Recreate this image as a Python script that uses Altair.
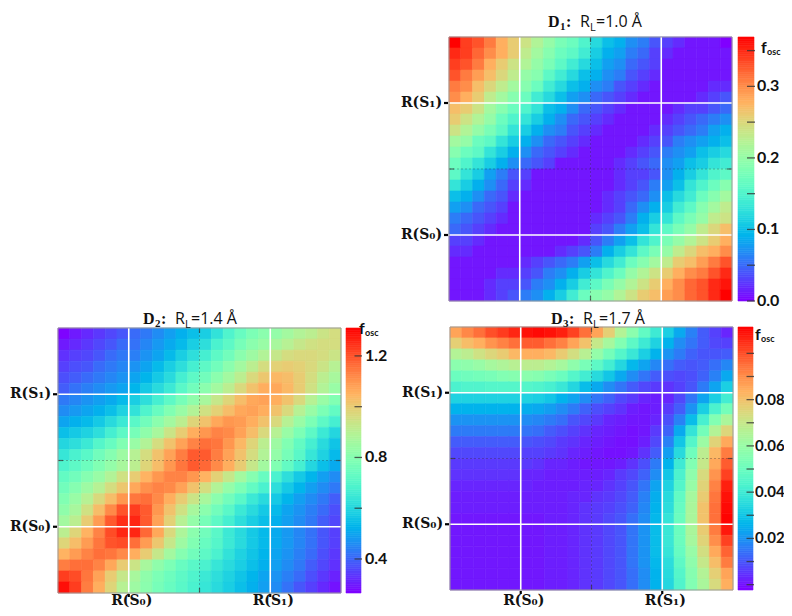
import altair as alt
import numpy as np
import pandas as pd

N_CELLS = 24
REF_POS = [6, 18]
REF_LABELS = ["R(S\u2080)", "R(S\u2081)"]
MID_POS = [12]

# f_osc x 100, rows listed from top (y index 23) to bottom (y index 0)
D1_ROWS = [
    [37,34,33,31,28,26,24,22,20,18,17,15,12,10,9,7,6,4,3,2,1,1,1,0],
    [35,34,32,30,28,26,23,21,19,17,16,14,11,9,8,6,5,3,2,1,1,1,1,1],
    [34,33,31,28,26,24,22,20,18,16,14,12,10,8,7,5,4,3,1,1,1,1,1,1],
    [33,31,29,27,25,23,20,19,16,14,12,10,9,7,6,4,3,2,1,1,1,1,1,1],
    [31,30,27,25,23,21,19,17,14,12,10,9,7,6,4,3,2,1,1,1,1,1,2,2],
    [30,28,26,23,21,19,17,14,12,10,8,7,5,4,3,2,1,1,1,1,1,2,3,4],
    [27,26,24,21,19,17,15,13,10,9,7,5,4,3,2,1,1,1,1,2,3,3,4,5],
    [26,24,22,20,17,15,13,11,9,7,5,4,3,2,1,1,1,1,2,3,4,5,6,7],
    [24,22,20,18,16,13,11,9,7,6,4,3,2,1,1,1,1,2,3,4,5,6,8,9],
    [21,20,17,16,13,11,9,7,5,4,3,2,1,1,1,1,2,3,4,6,7,8,9,10],
    [19,17,16,13,11,9,7,5,4,3,2,1,1,1,1,2,3,4,6,7,8,10,11,12],
    [17,15,13,11,9,7,5,4,3,1,1,1,1,1,2,3,4,5,7,8,10,11,13,14],
    [16,13,11,8,6,4,3,1,1,1,1,1,1,1,2,3,3,4,7,9,11,13,15,16],
    [13,11,9,7,5,3,2,1,1,1,1,1,1,1,2,3,4,6,8,10,13,15,17,19],
    [10,9,7,5,4,2,1,1,1,1,1,1,1,2,3,4,5,7,10,12,14,17,19,21],
    [8,7,5,4,3,1,1,1,1,1,1,1,1,2,3,5,7,9,11,14,16,19,21,23],
    [6,5,4,3,2,1,1,1,1,1,1,1,2,3,4,6,9,11,13,16,18,20,23,24],
    [5,4,3,2,1,1,1,1,1,1,1,1,3,4,6,8,10,13,16,18,20,23,25,27],
    [3,3,2,1,1,1,1,1,1,1,1,2,4,6,8,10,13,15,18,20,22,24,26,28],
    [2,2,1,1,1,1,1,1,1,2,3,4,6,9,11,13,16,18,20,23,25,27,28,30],
    [1,1,1,1,1,1,2,3,4,5,6,8,10,12,14,17,19,21,23,26,27,29,31,33],
    [1,1,1,1,2,2,3,4,6,7,9,11,13,15,17,20,22,24,26,28,30,31,33,35],
    [1,1,1,2,3,3,4,6,7,9,11,14,16,18,20,22,24,26,28,30,32,33,35,36],
    [1,1,1,2,3,4,6,7,9,11,14,17,19,20,22,24,26,27,29,30,32,33,35,37],
]

# f_osc x 100
D2_ROWS = [
    [27,30,32,34,36,38,41,43,46,49,52,55,58,63,69,74,78,81,83,86,89,91,94,96],
    [30,32,34,36,38,41,42,45,48,51,54,58,62,68,72,77,81,84,87,90,93,95,96,96],
    [33,35,36,38,41,43,44,47,50,54,58,62,67,72,76,81,85,89,93,96,97,97,96,94],
    [35,37,38,41,43,45,47,50,54,58,62,67,72,76,81,86,91,96,99,100,99,97,94,90],
    [37,39,41,43,45,47,50,53,57,61,67,72,76,81,86,91,97,101,104,103,100,96,91,87],
    [39,42,44,46,48,50,53,57,61,65,71,76,81,86,91,97,102,106,107,104,100,95,89,84],
    [43,45,47,49,51,54,58,62,67,72,77,82,87,93,98,103,107,108,106,102,97,90,84,79],
    [46,48,50,52,55,59,63,69,74,79,84,89,95,99,103,107,108,106,102,97,90,84,78,73],
    [50,52,54,57,61,65,71,76,81,86,91,98,102,107,110,109,106,102,97,90,84,78,72,67],
    [55,57,59,62,67,72,77,82,87,94,100,106,110,113,112,108,103,97,90,84,78,72,65,60],
    [60,62,65,70,74,79,84,89,96,102,108,113,116,115,110,104,98,91,85,79,73,67,61,56],
    [64,68,71,76,80,85,90,96,102,108,114,119,119,114,108,102,96,89,83,77,71,64,59,54],
    [69,72,75,79,83,87,91,98,103,110,115,119,117,112,106,100,93,86,79,73,67,60,55,51],
    [73,76,80,84,89,95,100,105,110,113,113,110,105,99,93,86,80,74,68,62,57,53,49,46],
    [76,80,85,90,96,101,107,111,113,112,108,102,96,89,83,78,73,68,62,57,53,49,46,43],
    [79,84,90,97,103,110,115,116,112,106,100,94,87,81,76,71,65,61,57,53,49,46,43,39],
    [82,87,95,103,112,120,123,119,110,102,95,87,81,76,71,65,61,57,54,50,47,44,41,37],
    [86,91,100,109,119,125,126,119,108,99,90,83,77,72,67,62,58,55,52,49,46,43,39,36],
    [91,98,105,113,121,126,126,117,107,97,88,81,76,71,65,61,57,54,51,48,45,42,38,35],
    [98,103,109,115,120,121,116,109,101,93,85,79,74,70,65,61,57,54,51,48,45,42,38,35],
    [105,109,113,116,115,112,106,100,93,86,80,76,72,68,63,59,56,53,50,47,44,41,37,34],
    [114,116,116,113,107,100,94,87,82,78,74,71,68,64,61,58,55,52,49,46,43,39,36,33],
    [123,121,115,108,100,93,87,82,78,75,72,69,65,62,59,56,53,50,47,44,41,37,34,31],
    [129,123,114,106,98,90,85,81,77,74,71,68,64,61,58,55,52,49,46,42,38,35,32,29],
]

# f_osc x 1000
D3_ROWS = [
    [86,91,95,100,103,106,109,110,109,107,102,95,86,77,66,57,48,40,32,24,17,11,7,3],
    [77,81,84,89,92,95,98,98,95,92,86,80,70,63,55,47,40,33,26,19,15,11,8,7],
    [66,68,72,75,78,82,84,84,82,78,73,67,59,52,45,39,32,26,20,16,12,10,10,11],
    [57,58,60,63,65,67,68,68,66,63,58,53,47,41,34,27,23,18,14,11,10,11,14,18],
    [50,51,52,53,55,56,57,56,53,50,45,41,35,30,24,19,15,11,9,8,9,12,17,24],
    [43,44,44,45,45,45,45,44,42,39,34,28,24,19,15,11,8,6,5,7,10,16,23,32],
    [33,33,33,33,33,33,33,32,30,26,23,19,15,12,8,6,3,2,3,8,15,23,32,41],
    [26,26,26,26,26,26,25,24,22,19,16,12,9,7,5,2,1,2,6,11,20,32,43,52],
    [20,20,20,20,20,20,19,18,16,14,10,8,6,3,2,1,1,3,9,17,28,42,55,64],
    [16,16,16,16,16,16,15,14,11,9,7,5,3,2,1,0,1,6,12,24,38,52,66,75],
    [11,11,11,11,11,11,10,9,8,6,5,3,2,1,0,0,2,8,17,30,45,61,76,85],
    [8,8,8,8,8,8,7,7,6,5,3,2,1,0,0,1,5,11,22,35,51,68,82,93],
    [6,6,6,6,6,6,6,5,3,3,2,1,1,1,2,5,9,16,26,40,55,70,85,98],
    [5,5,5,5,5,5,3,3,2,2,2,2,2,3,6,8,12,19,30,43,58,74,89,102],
    [3,3,3,3,3,3,3,2,2,2,2,3,3,5,7,10,15,23,33,45,60,76,92,107],
    [2,2,2,2,2,2,2,2,2,2,3,3,5,6,8,11,17,25,35,48,63,78,94,109],
    [2,2,2,2,2,2,2,2,2,2,3,5,6,7,9,12,18,26,36,49,64,80,95,110],
    [1,1,1,1,1,1,1,1,2,2,3,5,6,8,10,14,19,27,38,50,64,80,95,111],
    [1,1,1,1,1,1,1,1,2,2,3,5,6,8,10,15,20,28,39,50,64,78,93,108],
    [1,1,1,1,1,1,1,1,2,2,3,5,6,8,10,15,20,28,39,50,63,76,90,102],
    [1,1,1,1,1,1,1,1,2,2,3,5,6,8,10,15,20,28,38,49,60,73,85,97],
    [1,1,1,1,1,1,1,1,2,2,3,5,6,8,10,15,20,27,36,47,58,70,81,93],
    [1,1,1,1,1,1,1,1,2,2,3,5,6,8,10,14,19,26,35,45,56,66,77,86],
    [1,1,1,1,1,1,1,1,2,2,3,5,6,8,10,14,19,26,34,44,55,64,74,84],
]

D1_RANGE = [0.0, 0.369]
D2_RANGE = [0.266, 1.31]
D3_RANGE = [-0.0023, 0.1114]

D1_DASHES = [0.0, 0.05, 0.1, 0.15, 0.2, 0.25, 0.3, 0.35]
D1_TICKS = [0.0, 0.1, 0.2, 0.3]
D1_TICK_LABELS = ["0.0", "0.1", "0.2", "0.3"]
D2_DASHES = [0.4, 0.6, 0.8, 1.0, 1.2]
D2_TICKS = [0.4, 0.8, 1.2]
D2_TICK_LABELS = ["0.4", "0.8", "1.2"]
D3_DASHES = [0.0, 0.01, 0.02, 0.03, 0.04, 0.05, 0.06, 0.07, 0.08, 0.09, 0.10]
D3_TICKS = [0.02, 0.04, 0.06, 0.08]
D3_TICK_LABELS = ["0.02", "0.04", "0.06", "0.08"]

SERIF = "Liberation Serif"
LABSERIF = "DejaVu Serif"
SANS = "Open Sans"
LBL = "Lato"
XLAB_BASE = 597


def rainbow(t):
    r = min(1.0, abs(2 * t - 0.5))
    g = np.sin(np.pi * t)
    b = np.cos(np.pi * t / 2)
    return "#%02x%02x%02x" % tuple(int(round(255 * max(0.0, min(1.0, c)))) for c in (r, g, b))


STOPS = np.linspace(0, 1, 21)
COLORS = [rainbow(float(t)) for t in STOPS]
DUMMY = pd.DataFrame({"k": [0]})


def cells(rows, unit):
    recs = []
    n = len(rows)
    for r, row in enumerate(rows):
        yb = n - 1 - r
        for c, v in enumerate(row):
            recs.append({"x": c, "x2": c + 1, "y": yb, "y2": yb + 1, "v": v * unit})
    return pd.DataFrame(recs)


def text_at(txt, x, y, size, font, weight="normal", align="left", baseline="alphabetic"):
    return alt.Chart(DUMMY).mark_text(
        text=txt, align=align, baseline=baseline, font=font, fontSize=size,
        fontWeight=weight, color="#111"
    ).encode(x=alt.value(x), y=alt.value(y))


def panel(rows, unit, vrange, px, py, cbx, dashes, ticks, tick_labels,
          xlabels, title_x, title_base, digit, rl, f_pos, lbl_x, lbl_size):
    XS = alt.Scale(domain=[0, N_CELLS], range=px, nice=False, zero=False)
    YS = alt.Scale(domain=[0, N_CELLS], range=py, nice=False, zero=False)
    lo, hi = vrange
    CS = alt.Scale(domain=[float(v) for v in np.linspace(lo, hi, len(COLORS))],
                   range=COLORS, clamp=True, interpolate="rgb")
    CBY = alt.Scale(domain=[lo, hi], range=[py[0], py[1]], nice=False, zero=False)
    layers = []
    df = cells(rows, unit)
    layers.append(alt.Chart(df).mark_rect(strokeWidth=0.6).encode(
        x=alt.X("x:Q", scale=XS, axis=None), x2="x2:Q",
        y=alt.Y("y:Q", scale=YS, axis=None), y2="y2:Q",
        color=alt.Color("v:Q", scale=CS, legend=None),
        stroke=alt.Stroke("v:Q", scale=CS, legend=None)))
    mid = pd.DataFrame({"p": MID_POS, "a": [0], "b": [N_CELLS]})
    layers.append(alt.Chart(mid).mark_rule(color="#222", strokeWidth=1, strokeDash=[2, 2], opacity=0.3).encode(
        x=alt.X("p:Q", scale=XS, axis=None), y=alt.Y("a:Q", scale=YS, axis=None), y2="b:Q"))
    layers.append(alt.Chart(mid).mark_rule(color="#222", strokeWidth=1, strokeDash=[2, 2], opacity=0.3).encode(
        y=alt.Y("p:Q", scale=YS, axis=None), x=alt.X("a:Q", scale=XS, axis=None), x2="b:Q"))
    for (a0, a1) in [(py[1], py[1] + 5), (py[0] - 5, py[0])]:
        layers.append(alt.Chart(mid).mark_rule(color="#333", strokeWidth=1.2, opacity=0.7).encode(
            x=alt.X("p:Q", scale=XS, axis=None), y=alt.value(a0), y2=alt.value(a1)))
    for (a0, a1) in [(px[0], px[0] + 5), (px[1] - 5, px[1])]:
        layers.append(alt.Chart(mid).mark_rule(color="#333", strokeWidth=1.2, opacity=0.7).encode(
            y=alt.Y("p:Q", scale=YS, axis=None), x=alt.value(a0), x2=alt.value(a1)))
    ref = pd.DataFrame({"p": REF_POS, "a": [0, 0], "b": [N_CELLS, N_CELLS], "lab": REF_LABELS})
    layers.append(alt.Chart(ref).mark_rule(color="white", strokeWidth=1.6).encode(
        x=alt.X("p:Q", scale=XS, axis=None), y=alt.Y("a:Q", scale=YS, axis=None), y2="b:Q"))
    layers.append(alt.Chart(ref).mark_rule(color="white", strokeWidth=1.6).encode(
        y=alt.Y("p:Q", scale=YS, axis=None), x=alt.X("a:Q", scale=XS, axis=None), x2="b:Q"))
    frame = pd.DataFrame({"a": [0], "b": [N_CELLS]})
    layers.append(alt.Chart(frame).mark_rect(fill=None, stroke="#9a9a9a", strokeWidth=1).encode(
        x=alt.X("a:Q", scale=XS, axis=None), x2="b:Q",
        y=alt.Y("a:Q", scale=YS, axis=None), y2="b:Q"))
    # y axis ticks and labels
    layers.append(alt.Chart(ref).mark_rule(color="black", strokeWidth=2.2).encode(
        y=alt.Y("p:Q", scale=YS, axis=None), x=alt.value(px[0] - 5), x2=alt.value(px[0] - 1)))
    layers.append(alt.Chart(ref).mark_text(
        align="right", baseline="middle", font=LABSERIF, fontWeight="bold", fontSize=14, color="#111").encode(
        y=alt.Y("p:Q", scale=YS, axis=None), x=alt.value(px[0] - 7), text="lab:N"))
    if xlabels:
        layers.append(alt.Chart(ref).mark_rule(color="black", strokeWidth=2.2).encode(
            x=alt.X("p:Q", scale=XS, axis=None), y=alt.value(py[0] + 1), y2=alt.value(py[0] + 4)))
        layers.append(alt.Chart(ref).mark_text(
            align="center", baseline="alphabetic", dx=3, font=LABSERIF, fontWeight="bold", fontSize=14,
            color="#111").encode(
            x=alt.X("p:Q", scale=XS, axis=None), y=alt.value(XLAB_BASE), text="lab:N"))
    # colour bar
    steps = np.linspace(lo, hi, 121)
    cb = pd.DataFrame({"a": steps[:-1], "b": steps[1:], "m": (steps[:-1] + steps[1:]) / 2})
    layers.append(alt.Chart(cb).mark_rect(strokeWidth=0.6).encode(
        y=alt.Y("a:Q", scale=CBY, axis=None), y2="b:Q",
        x=alt.value(cbx[0]), x2=alt.value(cbx[1]),
        color=alt.Color("m:Q", scale=CS, legend=None),
        stroke=alt.Stroke("m:Q", scale=CS, legend=None)))
    dd = pd.DataFrame({"t": dashes})
    layers.append(alt.Chart(dd).mark_rule(color="#333", strokeWidth=1.3, opacity=0.8).encode(
        y=alt.Y("t:Q", scale=CBY, axis=None),
        x=alt.value((cbx[0] + cbx[1]) / 2 + 1), x2=alt.value(cbx[1] + 1)))
    tl = pd.DataFrame({"t": ticks, "lab": tick_labels})
    layers.append(alt.Chart(tl).mark_text(
        align="left", baseline="middle", font=LBL, fontWeight="bold", fontSize=lbl_size, color="#111").encode(
        y=alt.Y("t:Q", scale=CBY, axis=None), x=alt.value(lbl_x), text="lab:N"))
    fx, fy = f_pos
    layers.append(text_at("f", fx, fy, 16, LBL, "bold"))
    layers.append(text_at("osc", fx + 6, fy + 2, 9, LBL, "bold"))
    # title
    X, B = title_x, title_base
    layers.append(text_at("D", X, B, 16, SERIF, "bold"))
    layers.append(text_at(digit, X + 12, B + 3, 11, SERIF, "bold"))
    layers.append(text_at(":", X + 18, B, 16, SERIF, "bold"))
    layers.append(text_at("R", X + 32, B, 16, SANS))
    layers.append(text_at("L", X + 42, B + 4, 11, SANS))
    layers.append(text_at("=" + rl + " \u00c5", X + 48, B, 16, SANS))
    return layers


layers = []
layers += panel(D1_ROWS, 0.01, D1_RANGE, [441, 724], [293, 29], [730, 746],
                D1_DASHES, D1_TICKS, D1_TICK_LABELS, False, 540, 19, "1", "1.0", (753, 45), 749, 16)
layers += panel(D2_ROWS, 0.01, D2_RANGE, [50, 333], [585, 320], [338, 353],
                D2_DASHES, D2_TICKS, D2_TICK_LABELS, True, 135, 316, "2", "1.4", (351, 326), 357, 16)
layers += panel(D3_ROWS, 0.001, D3_RANGE, [442, 725], [582, 319], [730, 745],
                D3_DASHES, D3_TICKS, D3_TICK_LABELS, True, 543, 316, "3", "1.7", (747, 332), 747, 15)

chart = alt.layer(*layers).resolve_scale(
    x="independent", y="independent", color="independent", stroke="independent"
).properties(
    width=776, height=600, autosize=alt.AutoSizeParams(type="none"), padding=0
).configure_view(stroke=None)

chart.save("out.html", embed_options={"renderer": "svg", "actions": False})
